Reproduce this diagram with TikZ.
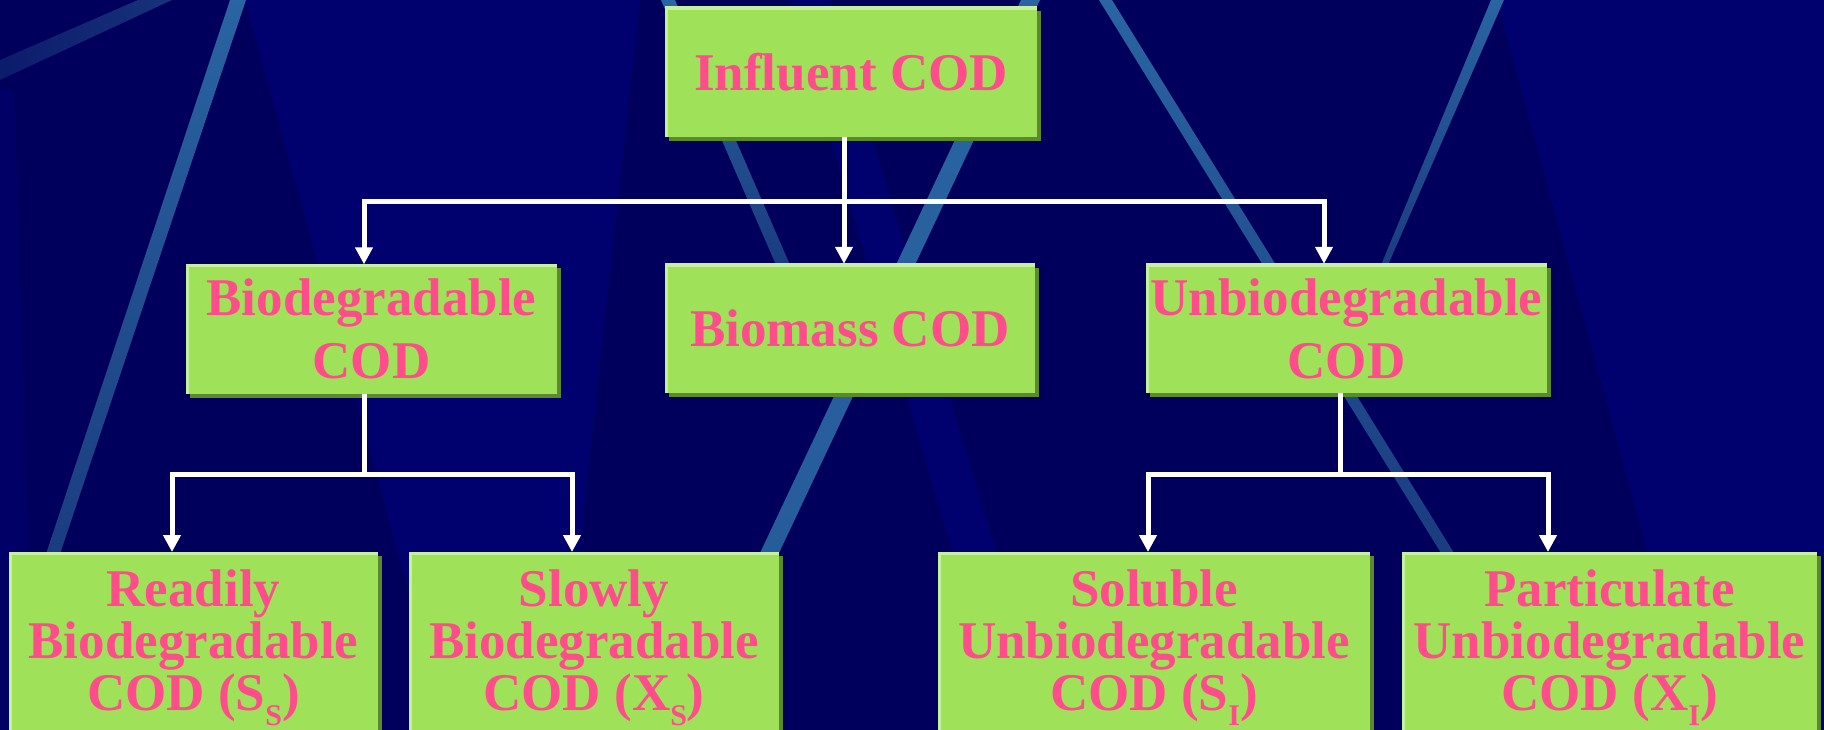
\documentclass[tikz,border=0pt]{standalone}
\usepackage{fontspec}
\setmainfont{Liberation Serif}
\usetikzlibrary{arrows.meta,shadows}

\definecolor{slidenavy}{HTML}{00005C}
\definecolor{slidelight}{HTML}{00006E}
\definecolor{streakblue}{HTML}{2A64A2}
\definecolor{streakdim}{HTML}{1A3C80}
\definecolor{boxgreen}{HTML}{A0E15A}
\definecolor{boxlight}{HTML}{C6EFA0}
\definecolor{boxshade}{HTML}{5A8A2C}
\definecolor{codpink}{HTML}{FF4C8B}

\newcommand\codsub[1]{\raisebox{-15pt}{\fontsize{30}{30}\selectfont #1}}

\tikzset{
  codbox/.style={fill=boxgreen, text=codpink, align=center, inner sep=0pt,
    font=\bfseries\fontsize{53}{52}\selectfont,
    drop shadow={shadow xshift=4pt, shadow yshift=-4pt, fill=boxshade, opacity=1},
    path picture={\draw[boxlight, line width=6pt]
      (path picture bounding box.south west) -- (path picture bounding box.north west)
      -- (path picture bounding box.north east);}},
  midbox/.style={codbox, minimum height=129pt, font=\bfseries\fontsize{53}{63}\selectfont},
  lowbox/.style={codbox, anchor=north, minimum height=191pt},
  wire/.style={draw=white, line width=5pt},
  feed/.style={wire, {Triangle[width=17pt,length=17pt]}-{Triangle[width=17pt,length=17pt]}},
  downlink/.style={wire, -{Triangle[width=17pt,length=17pt]}},
  streak/.style={top color=streakblue, bottom color=#1},
}

\begin{document}
\begin{tikzpicture}[x=1pt, y=-1pt]

    \useasboundingbox (0,0) rectangle (1824,730);
    \clip (0,0) rectangle (1824,730);

    % Background
    \fill[slidenavy] (0,0) rectangle (1824,730);

    %% Lighter wedges
    \fill[slidelight] (1497,0) -- (1824,0) -- (1824,730) -- (1696,730) -- cycle;
    \fill[slidelight] (245,0) -- (640,0) -- (560,730) -- (447,730) -- cycle;
    \fill[slidelight] (790,0) -- (830,0) -- (1050,730) -- (1005,730) -- cycle;
    \fill[slidelight!60!slidenavy] (0,90) -- (14,90) -- (34,730) -- (0,730) -- cycle;

    %% Streaks
    \shade[left color=streakdim!45!slidenavy, right color=streakdim!85!slidenavy] (0,60) -- (138,0) -- (172,0) -- (0,80) -- cycle;
    \shade[streak=streakdim] (230,0) -- (246,0) -- (58,560) -- (44,560) -- cycle;
    \shade[streak=streakdim] (661,0) -- (675,0) -- (790,265) -- (776,265) -- cycle;
    \shade[streak=streakblue!80!streakdim] (1021,0) -- (1040,0) -- (779,553) -- (760,553) -- cycle;
    \shade[streak=streakdim] (1099,0) -- (1112,0) -- (1454,553) -- (1441,553) -- cycle;
    \shade[streak=streakdim] (1491,0) -- (1504,0) -- (1388,265) -- (1381,265) -- cycle;

    % Level 1
    \node[codbox, minimum width=372pt, minimum height=130pt] (inf) at (851,72) {Influent COD};

    % Level 2
    \node[midbox, minimum width=371pt] (bio) at (371.5,329) {Biodegradable\\COD};
    \node[midbox, minimum width=370pt] (bms) at (850,328.5) {Biomass COD};
    \node[midbox, minimum width=401pt] (unb) at (1346.5,328.5) {Unbiodegradable\\COD};

    % Level 3
    \node[lowbox, minimum width=369pt] (rsc) at (193.5,552) {Readily\\Biodegradable\\COD (S\codsub{S})};
    \node[lowbox, minimum width=370pt] (ssc) at (594,552) {Slowly\\Biodegradable\\COD (X\codsub{S})};
    \node[lowbox, minimum width=432pt] (sic) at (1154,552) {Soluble\\Unbiodegradable\\COD (S\codsub{I})};
    \node[lowbox, minimum width=415pt] (pic) at (1609.5,552) {Particulate\\Unbiodegradable\\COD (X\codsub{I})};

    %% Junctions
    \coordinate (j1) at (844,202);
    \coordinate (bL) at (364,202);
    \coordinate (bR) at (1324,202);
    \coordinate (j2) at (364,474);
    \coordinate (sL) at (172,474);
    \coordinate (sR) at (572,474);
    \coordinate (j3) at (1340,474);
    \coordinate (uL) at (1148,474);
    \coordinate (uR) at (1548,474);

    %% Connectors
    \draw[downlink] (inf.south -| j1) -- (bms.north -| j1);
    \draw[feed] (bio.north -| bL) -- (bL) -- (bR) -- (unb.north -| bR);

    \draw[wire] (bio.south -| j2) -- (j2);
    \draw[feed] (rsc.north -| sL) -- (sL) -- (sR) -- (ssc.north -| sR);

    \draw[wire] (unb.south -| j3) -- (j3);
    \draw[feed] (sic.north -| uL) -- (uL) -- (uR) -- (pic.north -| uR);

\end{tikzpicture}
\end{document}
